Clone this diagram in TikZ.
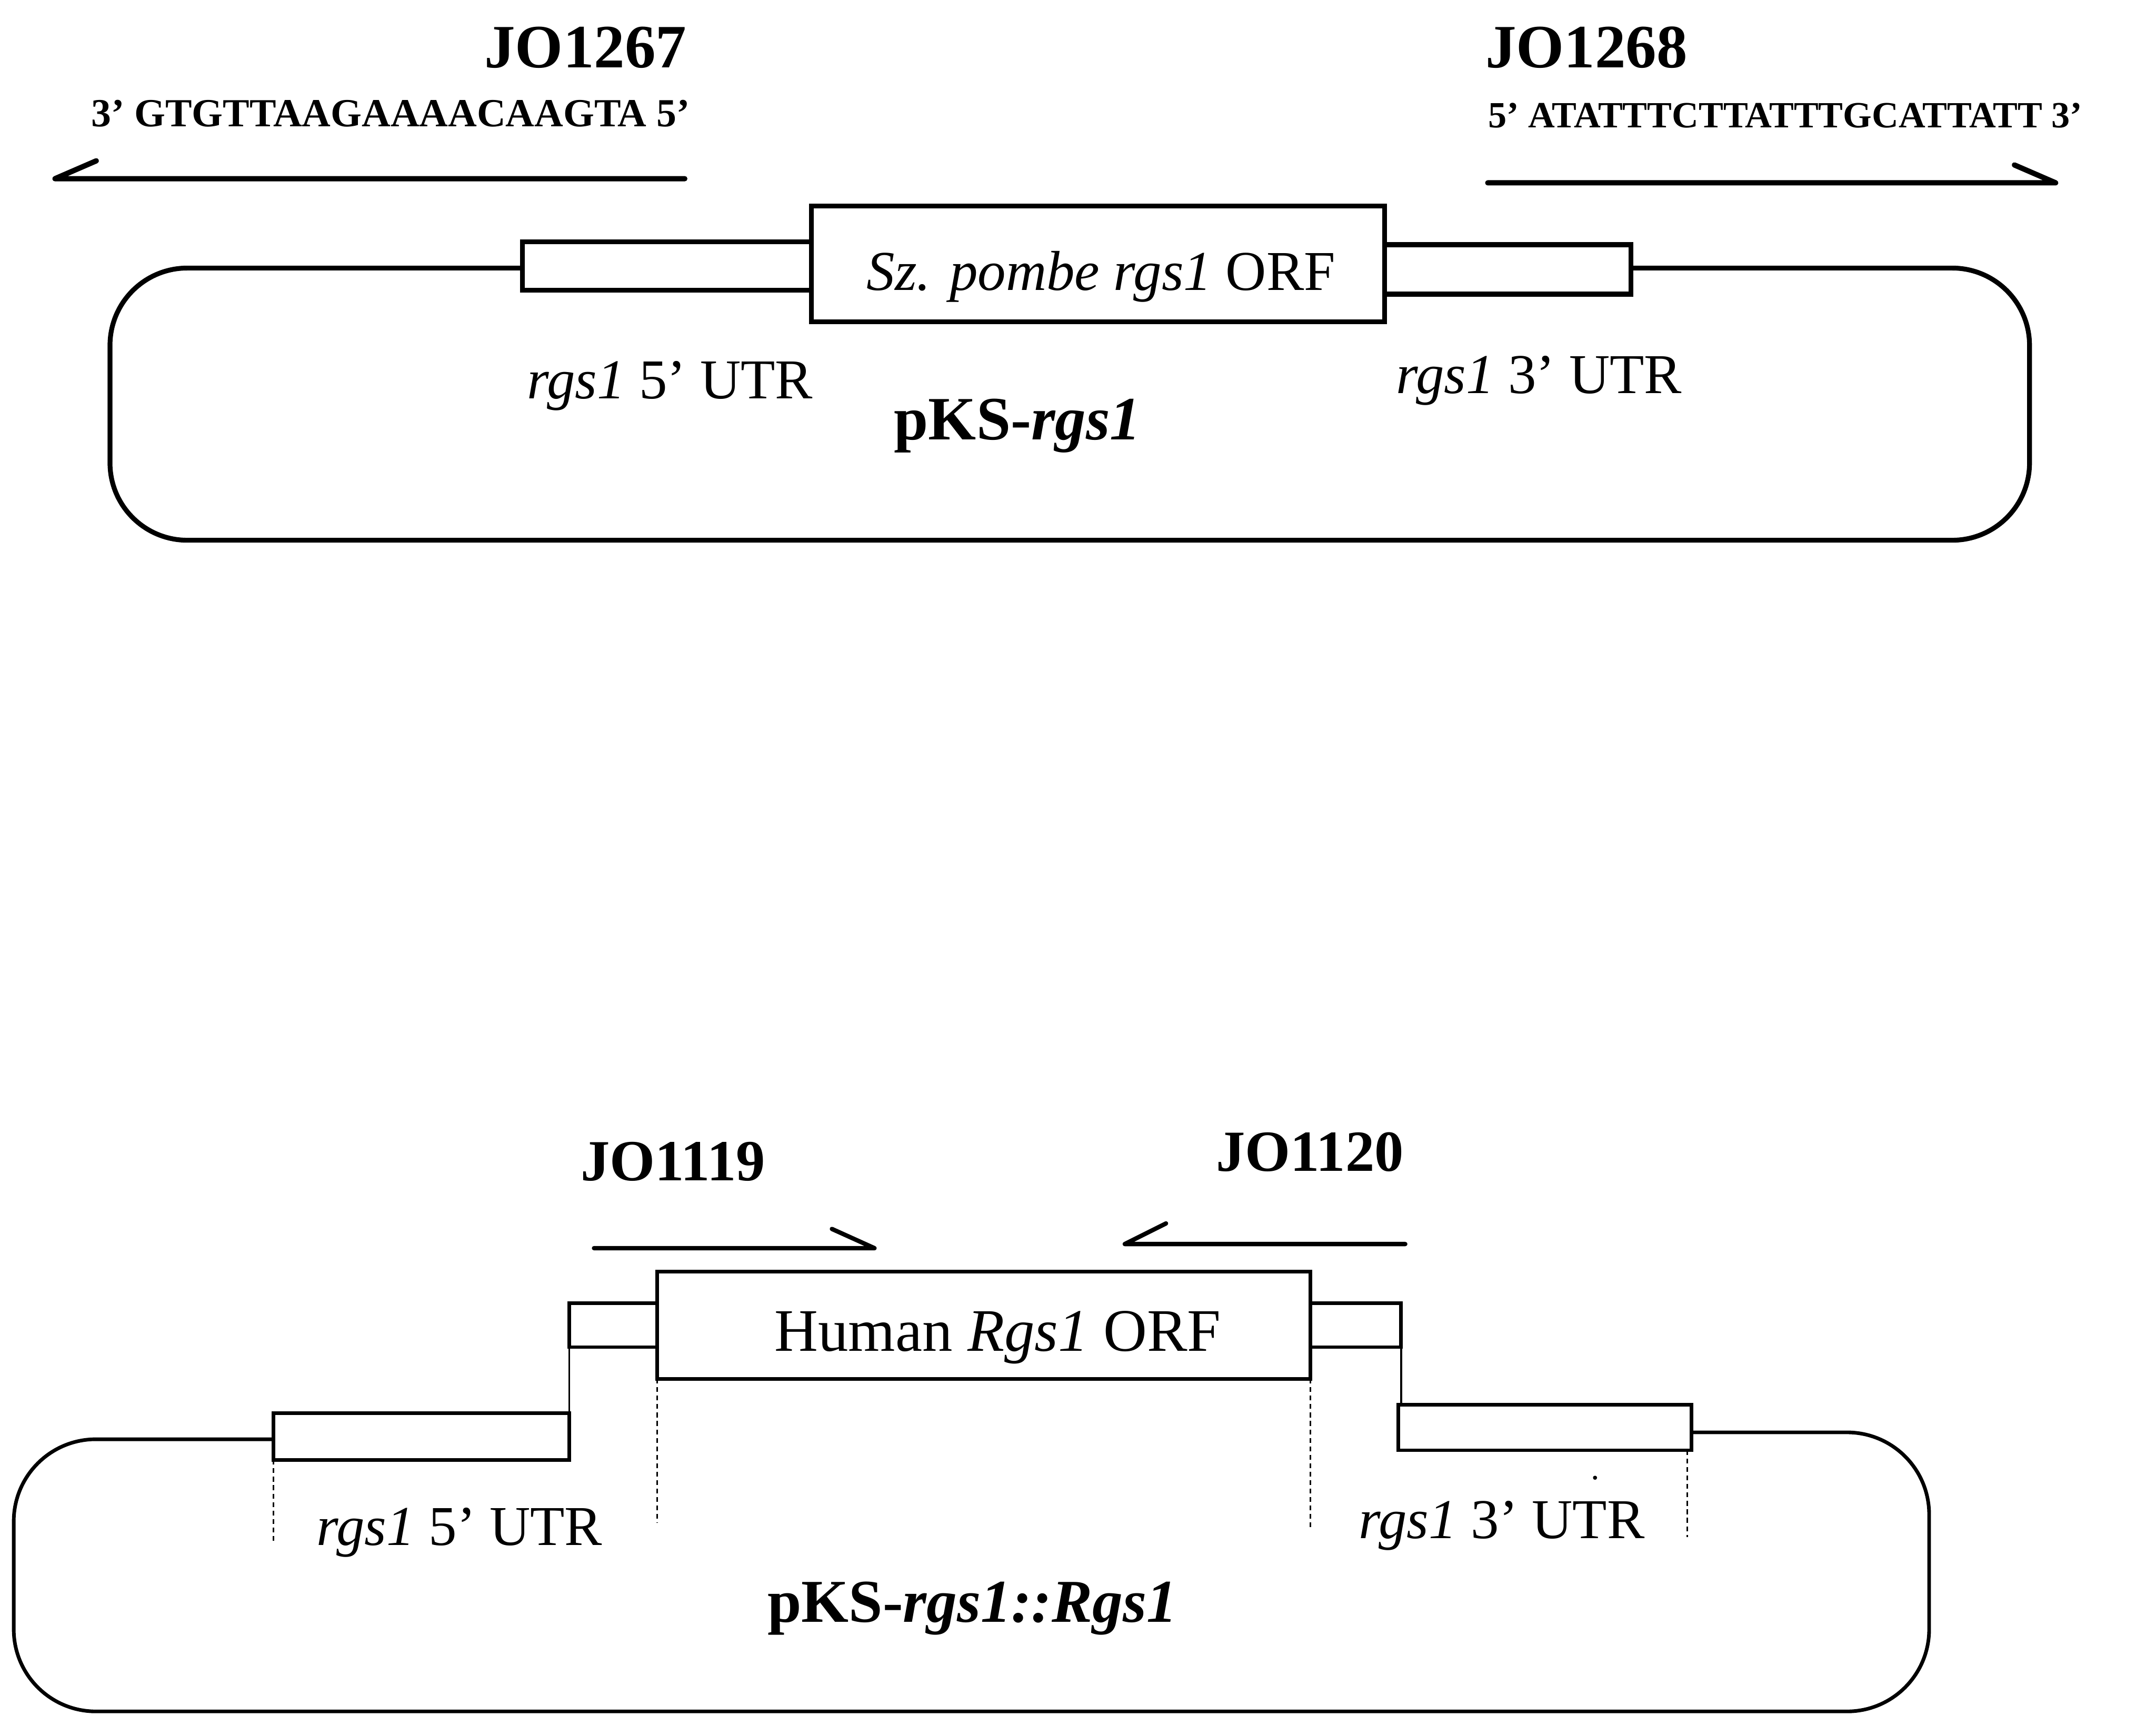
\documentclass[tikz,border=0pt]{standalone}
\usepackage{fontspec}
\setmainfont{Liberation Serif}
\begin{document}
\begin{tikzpicture}[x=0.02cm,y=-0.02cm,
  lbl/.style={inner sep=0pt,anchor=base west},
  primer/.style={lbl,font=\fontsize{25.5}{30}\selectfont\bfseries},
  primerb/.style={lbl,font=\fontsize{24.1}{28}\selectfont\bfseries},
  seqtxt/.style={lbl,font=\fontsize{16.5}{20}\selectfont\bfseries},
  seqtxtb/.style={lbl,font=\fontsize{15.3}{20}\selectfont\bfseries},
  gtxt/.style={lbl,font=\fontsize{23.3}{28}\selectfont},
  htxt/.style={lbl,font=\fontsize{25}{30}\selectfont},
  ptxt/.style={lbl,font=\fontsize{25.5}{30}\selectfont\bfseries},
  ptxtb/.style={lbl,font=\fontsize{25.2}{28}\selectfont\bfseries},
  topline/.style={line width=2pt},
  botline/.style={line width=1.5pt},
  arr/.style={line width=2.2pt,line join=round,line cap=round},
  guide/.style={line width=0.6pt,dash pattern=on 2pt off 1.5pt}]
\useasboundingbox (0,0) rectangle (1568,1248);

% ---------------- top construct ----------------
\node[primer] (jo1267) at (352,49) {JO1267};
\node[seqtxt] (seq1267) at (66,92) {3’ GTGTTAAGAAAACAAGTA 5’};
\node[primer] (jo1268) at (1080,49) {JO1268};
\node[seqtxtb] (seq1268) at (1082,93) {5’ ATATTTCTTATTTGCATTATT 3’};

\coordinate (a1s) at (498,130);
\coordinate (a1t) at (40,130);
\coordinate (a1b) at (70,117);
\draw[arr] (a1s) -- (a1t) -- (a1b);
\coordinate (a2s) at (1082,133);
\coordinate (a2t) at (1495,133);
\coordinate (a2b) at (1465,120);
\draw[arr] (a2s) -- (a2t) -- (a2b);

\draw[topline] (380,176) rectangle (590,211);
\draw[topline] (590,150) rectangle (1007,234);
\draw[topline] (1007,178) rectangle (1186,214);
\draw[topline,rounded corners=32] (380,195) -- (80,195) -- (80,393) -- (1476,393) -- (1476,195) -- (1186,195);

\node[gtxt] (orf1) at (630,211) {\itshape Sz. pombe rgs1\/ \upshape ORF};
\node[gtxt] (utr5a) at (383,290) {\itshape rgs1\/ \upshape 5’ UTR};
\node[gtxt] (utr3a) at (1015,286) {\itshape rgs1\/ \upshape 3’ UTR};
\node[ptxt] (pks1) at (650,320) {pKS-\itshape rgs1};

% ---------------- bottom construct ----------------
\node[primerb] (jo1119) at (422,859) {JO1119};
\node[primerb] (jo1120) at (884,852) {JO1120};

\coordinate (b1s) at (432,908);
\coordinate (b1t) at (636,908);
\coordinate (b1b) at (605,894);
\draw[arr,line width=1.8pt] (b1s) -- (b1t) -- (b1b);
\coordinate (b2s) at (1022,905);
\coordinate (b2t) at (818,905);
\coordinate (b2b) at (848,890);
\draw[arr,line width=1.8pt] (b2s) -- (b2t) -- (b2b);

\draw[botline] (199,1028) rectangle (414,1062);
\draw[botline] (414,948) rectangle (478,980);
\draw[botline] (478,925) rectangle (953,1003);
\draw[botline] (953,948) rectangle (1019,980);
\draw[botline] (1017,1022) rectangle (1230,1055);
\draw[line width=0.8pt] (414,980) -- (414,1028);
\draw[line width=0.8pt] (1019,980) -- (1019,1022);
\draw[botline,rounded corners=34] (199,1047) -- (10,1047) -- (10,1245) -- (1403,1245) -- (1403,1042) -- (1230,1042);

\draw[guide] (199,1062) -- (199,1122);
\draw[guide] (478,1003) -- (478,1108);
\draw[guide] (953,1003) -- (953,1112);
\draw[guide] (1227,1055) -- (1227,1118);
\fill (1160,1075) circle (1.5);

\node[htxt] (orf2) at (563,983) {Human \itshape Rgs1\/ \upshape ORF};
\node[gtxt] (utr5b) at (230,1124) {\itshape rgs1\/ \upshape 5’ UTR};
\node[gtxt] (utr3b) at (988,1119) {\itshape rgs1\/ \upshape 3’ UTR};
\node[ptxtb] (pks2) at (558,1180) {pKS-\itshape rgs1::Rgs1};
\end{tikzpicture}
\end{document}
